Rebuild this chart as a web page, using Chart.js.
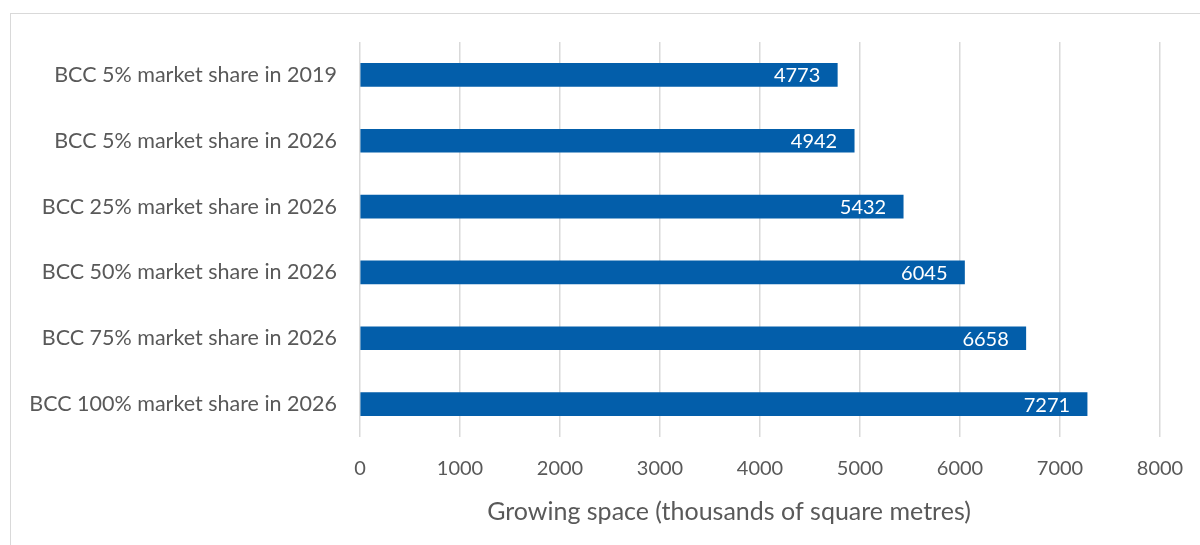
<!DOCTYPE html>
<html>
<head>
<meta charset="utf-8">
<script src="https://cdn.jsdelivr.net/npm/chart.js@4"></script>
<style>
  html, body { margin: 0; padding: 0; background: #fff; }
  #frame {
    position: absolute; left: 10px; top: 13px; width: 1200px; height: 545px;
    border-left: 1px solid #d9d9d9; border-top: 1px solid #d9d9d9;
  }
  #myChart { position: absolute; left: 0; top: 0; }
</style>
</head>
<body>
<div id="frame"></div>
<canvas id="myChart" width="1200" height="545"></canvas>
<script>
let scenarios = [
    "BCC 5% market share in 2019",
    "BCC 5% market share in 2026",
    "BCC 25% market share in 2026",
    "BCC 50% market share in 2026",
    "BCC 75% market share in 2026",
    "BCC 100% market share in 2026"
];
let growingSpace = [4773, 4942, 5432, 6045, 6658, 7271];
let axisTitle = "Growing space (thousands of square metres)";

let grey = "#595959";
let font = "Lato";

// white value text at the inner end of each bar
let barValues = {
    id: "barValues",
    afterDatasetsDraw(chart) {
        let ctx = chart.ctx;
        ctx.save();
        ctx.fillStyle = "#ffffff";
        ctx.font = "20px " + font;
        ctx.textAlign = "right";
        ctx.textBaseline = "middle";
        chart.getDatasetMeta(0).data.forEach((bar, i) => {
            ctx.fillText(String(growingSpace[i]), bar.x - 17, bar.y + 1);
        });
        ctx.restore();
    }
};

// axis title, centred on the whole chart rather than the plot area
let axisCaption = {
    id: "axisCaption",
    afterDraw(chart) {
        let ctx = chart.ctx;
        ctx.save();
        ctx.fillStyle = grey;
        ctx.font = "25px " + font;
        ctx.textAlign = "center";
        ctx.textBaseline = "middle";
        ctx.fillText(axisTitle, 729, 512);
        ctx.restore();
    }
};

new Chart("myChart", {
    type: "bar",
    data: {
        labels: scenarios,
        datasets: [{
            data: growingSpace,
            backgroundColor: "#035eaa",
            barThickness: 23
        }]
    },
    options: {
        indexAxis: "y",
        responsive: false,
        animation: false,
        layout: {padding: {left: 0, right: 40, top: 42, bottom: 14}},
        plugins: {
            legend: {display: false},
            tooltip: {enabled: false}
        },
        scales: {
            x: {
                min: 0,
                max: 8000,
                border: {display: false},
                grid: {color: "#d9d9d9", lineWidth: 1.5, drawTicks: false},
                ticks: {
                    stepSize: 1000,
                    color: grey,
                    font: {family: font, size: 20},
                    padding: 20,
                    callback: (v) => String(v)
                },
                afterFit(scale) {
                    scale.height = 94;
                    scale.paddingLeft = 0;
                    scale.paddingRight = 0;
                }
            },
            y: {
                border: {display: false},
                grid: {display: false, drawTicks: false},
                ticks: {color: grey, font: {family: font, size: 21.5}, padding: 23},
                afterFit(scale) { scale.width = 360; }
            }
        }
    },
    plugins: [barValues, axisCaption]
});
</script>
</body>
</html>
